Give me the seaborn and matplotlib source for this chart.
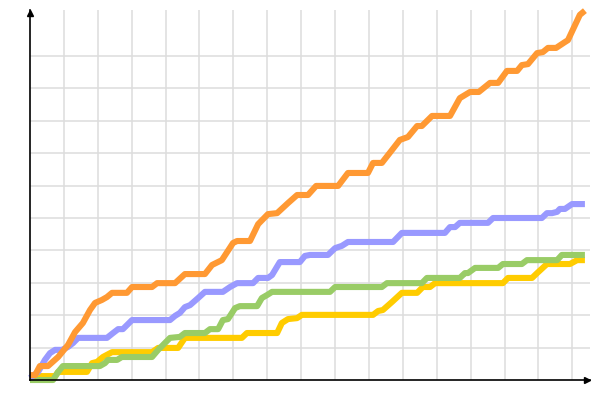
import numpy as np
import pandas as pd
import matplotlib
matplotlib.use("Agg")
import matplotlib.pyplot as plt
import seaborn as sns

# ---- data (grid units) ----
orange_x = [0.00,0.15,0.29,0.53,0.83,1.12,1.33,1.56,1.77,1.92,2.12,2.27,2.42,2.86,3.01,3.60,3.75,4.28,4.57,5.16,
            5.37,5.66,5.99,6.11,6.49,6.73,7.02,7.29,7.61,7.88,8.20,8.44,9.09,9.38,9.97,10.12,10.38,10.68,10.91,11.15,
            11.42,11.56,11.86,12.39,12.68,12.98,13.24,13.57,13.81,14.07,14.37,14.51,14.69,14.96,15.13,15.28,15.52,15.78,15.87,16.22,16.37]
orange_y = [0.15,0.15,0.43,0.43,0.71,1.08,1.48,1.76,2.16,2.38,2.47,2.56,2.69,2.69,2.87,2.87,2.99,2.99,3.27,3.27,
            3.55,3.70,4.23,4.29,4.29,4.81,5.12,5.15,5.46,5.71,5.71,5.99,5.99,6.39,6.39,6.70,6.70,7.10,7.41,7.50,
            7.84,7.84,8.15,8.15,8.70,8.89,8.89,9.17,9.17,9.54,9.54,9.72,9.75,10.09,10.12,10.25,10.25,10.43,10.49,11.27,11.40]

blue_x = [0.00,0.24,0.44,0.59,0.74,0.94,1.12,1.27,1.42,2.27,2.45,2.60,2.74,3.01,4.13,4.28,4.42,4.57,4.72,4.96,
          5.16,5.69,5.90,6.11,6.58,6.73,7.02,7.14,7.37,7.96,8.11,8.26,8.79,9.00,9.20,9.38,10.71,10.97,12.24,12.39,
          12.54,12.68,13.51,13.66,15.10,15.25,15.40,15.55,15.63,15.78,15.99,16.37]
blue_y = [0.06,0.25,0.62,0.83,0.93,0.93,1.02,1.14,1.30,1.30,1.45,1.57,1.57,1.85,1.85,1.98,2.07,2.25,2.31,2.53,
          2.72,2.72,2.87,2.99,2.99,3.15,3.15,3.24,3.64,3.64,3.83,3.86,3.86,4.07,4.14,4.26,4.26,4.54,4.54,4.72,
          4.72,4.85,4.85,5.00,5.00,5.15,5.15,5.19,5.28,5.28,5.43,5.43]

green_x = [0.00,0.68,0.83,0.97,2.06,2.21,2.30,2.57,2.71,3.60,3.78,4.13,4.42,4.57,5.16,5.31,5.55,5.69,5.84,6.05,
           6.19,6.70,6.84,6.99,7.14,8.85,9.00,10.38,10.53,11.56,11.71,12.68,12.83,12.92,13.13,13.81,13.95,14.51,14.66,15.55,
           15.69,16.37]
green_y = [0.00,0.00,0.25,0.43,0.43,0.52,0.62,0.62,0.71,0.71,0.93,1.30,1.33,1.45,1.45,1.57,1.57,1.85,1.88,2.22,
           2.28,2.28,2.53,2.62,2.72,2.72,2.87,2.87,2.99,2.99,3.15,3.15,3.30,3.30,3.46,3.46,3.58,3.58,3.70,3.70,
           3.86,3.86]

yellow_x = [0.00,0.74,0.83,1.68,1.83,1.98,2.15,2.42,3.60,3.78,4.37,4.57,6.25,6.40,7.29,7.43,7.61,7.88,8.02,10.12,
            10.27,10.41,10.68,10.97,11.42,11.59,11.80,11.95,13.95,14.10,14.81,14.96,15.25,15.93,16.14,16.37]
yellow_y = [0.12,0.12,0.25,0.25,0.52,0.56,0.71,0.86,0.86,0.99,0.99,1.30,1.30,1.45,1.45,1.76,1.88,1.91,2.01,2.01,
            2.13,2.16,2.41,2.69,2.69,2.87,2.87,2.99,2.99,3.15,3.15,3.30,3.58,3.58,3.70,3.70]

series_names = ["yellow", "green", "blue", "orange"]
series_colors = {"yellow": "#ffcc00", "green": "#99cc66", "blue": "#9999ff", "orange": "#ff9933"}

frames = []
for name, xs, ys in [("yellow", yellow_x, yellow_y), ("green", green_x, green_y),
                     ("blue", blue_x, blue_y), ("orange", orange_x, orange_y)]:
    frames.append(pd.DataFrame({"x": xs, "y": ys, "series": name, "order": range(len(xs))}))
df = pd.concat(frames, ignore_index=True)

sns.set_style("white")
fig = plt.figure(figsize=(6, 4), dpi=100)
ax = fig.add_axes([30/600, 20/400, 560/600, 370/400])

sns.lineplot(data=df, x="x", y="y", hue="series", hue_order=series_names,
             palette=series_colors, sort=False, estimator=None, units="series",
             linewidth=4.4, legend=False, ax=ax, solid_capstyle="butt")
for ln in ax.lines:
    ln.set_clip_on(False)

ax.set_xlim(0, 16.52)
ax.set_ylim(0, 11.42)
ax.set_xticks(np.arange(1, 17, 1))
ax.set_yticks(np.arange(1, 11, 1))
ax.grid(True, color="#dddddd", linewidth=1.1)
ax.set_axisbelow(True)
ax.tick_params(length=0, labelbottom=False, labelleft=False)
ax.set_xlabel("")
ax.set_ylabel("")
for s in ["top", "right"]:
    ax.spines[s].set_visible(False)
for s in ["left", "bottom"]:
    ax.spines[s].set_color("black")
    ax.spines[s].set_linewidth(1.2)
    ax.spines[s].set_zorder(5)

ax.plot([0.995], [0], marker=">", color="black", markersize=5, transform=ax.transAxes, clip_on=False, zorder=6)
ax.plot([0], [0.992], marker="^", color="black", markersize=5, transform=ax.transAxes, clip_on=False, zorder=6)

fig.savefig("out.png", dpi=100)
